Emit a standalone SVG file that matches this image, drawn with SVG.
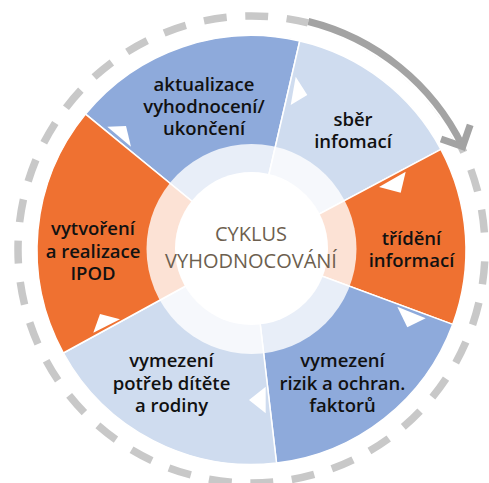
<svg xmlns="http://www.w3.org/2000/svg" width="489" height="483" viewBox="0 0 489 483">
  <style>
    .seg { stroke: #ffffff; stroke-width: 1.5; stroke-linejoin: round; }
    .dblue { fill: #8eaadb; }
    .lblue { fill: #cfdcef; }
    .orange { fill: #ef7131; }
    .lbl { font-family: "Open Sans", "Liberation Sans", sans-serif; font-weight: 600; font-size: 18.5px; fill: #111111; text-anchor: middle; }
    .ctr { font-family: "Open Sans", "Liberation Sans", sans-serif; font-weight: 400; font-size: 20px; fill: #6d5f4f; text-anchor: middle; }
    .tri { fill: #ffffff; }
    .dash { fill: none; stroke: #c8c8c8; stroke-width: 7.5; stroke-dasharray: 23 18.6; stroke-dashoffset: -12; }
    .arrow { fill: none; stroke: #a3a3a3; stroke-width: 7; stroke-linecap: butt; stroke-linejoin: miter; }
  </style>

  <circle class="dash" cx="251.5" cy="249.5" r="233.5"/>

  <g id="aktualizace">
    <path class="seg dblue" d="M251.5 250 L85.51 114.14 A214.5 214.5 0 0 1 299.75 41.0 Z"/>
    <text class="lbl" x="204" y="91">aktualizace</text>
    <text class="lbl" x="204" y="113">vyhodnocení/</text>
    <text class="lbl" x="204" y="135">ukončení</text>
  </g>
  <g id="sber">
    <path class="seg lblue" d="M251.5 250 L299.75 41.0 A214.5 214.5 0 0 1 440.89 149.30 Z"/>
    <text class="lbl" x="353" y="125.5">sběr</text>
    <text class="lbl" x="353" y="147.5">infomací</text>
  </g>
  <g id="trideni">
    <path class="seg orange" d="M251.5 250 L440.89 149.30 A214.5 214.5 0 0 1 452.68 324.42 Z"/>
    <text class="lbl" x="411.5" y="245">třídění</text>
    <text class="lbl" x="411.5" y="266.5">informací</text>
  </g>
  <g id="rizika">
    <path class="seg dblue" d="M251.5 250 L452.68 324.42 A214.5 214.5 0 0 1 276.53 463.03 Z"/>
    <text class="lbl" x="342.5" y="367">vymezení</text>
    <text class="lbl" x="342.5" y="390">rizik a ochran.</text>
    <text class="lbl" x="342.5" y="412">faktorů</text>
  </g>
  <g id="potreby">
    <path class="seg lblue" d="M251.5 250 L276.53 463.03 A214.5 214.5 0 0 1 63.35 353.01 Z"/>
    <text class="lbl" x="171.5" y="367">vymezení</text>
    <text class="lbl" x="171.5" y="390">potřeb dítěte</text>
    <text class="lbl" x="171.5" y="412">a rodiny</text>
  </g>
  <g id="vytvoreni">
    <path class="seg orange" d="M251.5 250 L63.35 353.01 A214.5 214.5 0 0 1 85.51 114.14 Z"/>
    <text class="lbl" x="93" y="235">vytvoření</text>
    <text class="lbl" x="93" y="257.5">a realizace</text>
    <text class="lbl" x="93" y="280">IPOD</text>
  </g>

  <g id="center">
    <circle cx="251.5" cy="249" r="105" fill="#ffffff" fill-opacity="0.8"/>
    <circle cx="251.5" cy="248.5" r="76.5" fill="#ffffff"/>
    <text class="ctr" x="251" y="241">CYKLUS</text>
    <text class="ctr" x="251" y="268">VYHODNOCOVÁNÍ</text>
  </g>

  <g id="connectors">
    <polygon class="tri" points="107.3,126.7 126,126 131,146.7"/>
    <polygon class="tri" points="295.7,76.7 307.3,95 290.7,105"/>
    <polygon class="tri" points="379,187 405.7,171.7 400.7,192.7"/>
    <polygon class="tri" points="397.3,306.7 425.7,318.3 407.3,327.3"/>
    <polygon class="tri" points="265.7,386.7 265.7,413.3 249,400"/>
    <polygon class="tri" points="93.3,332.7 100,314 120,319.3"/>
    <path d="M308.35 21.48 A235 235 0 0 1 463.2 146" fill="none" stroke="#ffffff" stroke-width="12"/>
    <path class="arrow" d="M308.35 21.48 A235 235 0 0 1 462.7 146.5"/>
    <polyline class="arrow" points="470.2,124.8 462.7,146.5 441,139"/>
  </g>
</svg>
